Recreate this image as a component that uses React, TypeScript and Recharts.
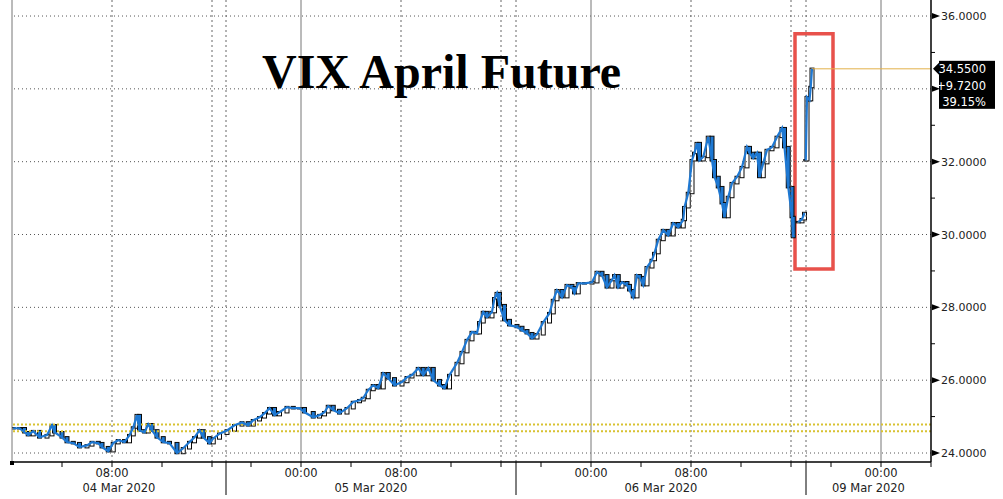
import React from 'react'
import {
  Bar,
  ComposedChart,
  Line,
  ReferenceArea,
  ReferenceLine,
  XAxis,
  YAxis,
} from 'recharts'

// chart hours: 04 Mar 00:00 = 0, session gaps compressed like the terminal does
const hours = [
  0.1, 0.6, 1.0, 1.3, 1.7, 2.2, 2.8, 3.2, 3.4, 4.0, 4.4, 4.9, 5.4, 6.0, 6.4, 6.9, 7.2, 7.7, 8.1, 8.5,
  9.0, 9.4, 9.7, 10.0, 10.2, 10.6, 10.9, 11.2, 11.6, 12.1, 12.6, 13.2, 13.7, 14.2, 14.6, 15.0, 15.3,
  15.8, 16.1, 16.6, 17.2, 17.8, 18.4, 18.9, 19.3, 19.8, 20.2, 20.6, 21.0, 21.4, 22.0, 22.5, 23.0, 23.4,
  24.1, 24.6, 25.0, 25.3, 25.7, 26.2, 26.8, 27.3, 27.8, 28.1, 28.5, 28.9, 29.3, 29.7, 30.1, 30.6, 31.2,
  31.6, 32.0, 32.5, 32.9, 33.3, 33.7, 34.2, 34.6, 35.0, 35.6, 36.0, 36.4, 36.8, 37.2, 37.4, 37.7, 38.0,
  38.4, 38.6, 38.8, 39.0, 39.4, 39.8, 40.4, 40.8, 41.2, 41.6, 42.0, 42.5, 43.0, 43.3, 43.6, 44.0, 44.4,
  44.8, 45.0, 45.3, 45.8, 46.4, 46.8, 47.2, 47.6, 48.0, 48.2, 48.5, 48.8, 49.2, 49.4, 49.7, 50.0, 50.2,
  50.5, 50.8, 51.2, 51.4, 51.7, 52.1, 52.5, 52.9, 53.3, 53.7, 53.8, 54.1, 54.4, 54.6, 54.8, 55.0, 55.3,
  55.7, 56.0, 56.2, 56.5, 56.8, 57.0, 57.3, 57.6, 58.0, 58.4, 58.8, 59.0, 59.3, 59.6, 59.8, 60.1, 60.4,
  60.8, 61.2, 61.6, 61.8, 62.1, 62.4, 62.5, 62.7, 62.9, 63.2, 63.4, 63.45, 63.5, 63.6, 63.8, 63.9, 64.0,
]

const closes: (number | null)[] = [
  24.68, 24.68, 24.57, 24.49, 24.6, 24.43, 24.49, 24.76, 24.57, 24.43, 24.3, 24.27, 24.16, 24.21, 24.3,
  24.27, 24.16, 24.05, 24.27, 24.35, 24.3, 24.49, 24.7, 25.04, 24.62, 24.57, 24.79, 24.62, 24.43, 24.3,
  24.27, 24.0, 24.13, 24.3, 24.43, 24.62, 24.43, 24.27, 24.4, 24.53, 24.62, 24.76, 24.84, 24.76, 24.9,
  24.98, 25.09, 25.23, 25.04, 25.12, 25.26, 25.23, 25.23, 25.12, 24.98, 25.04, 25.12, 25.29, 25.18,
  25.09, 25.23, 25.4, 25.45, 25.51, 25.73, 25.86, 25.78, 26.19, 26.05, 25.86, 25.95, 26.08, 26.14,
  26.33, 26.14, 26.33, 26.0, 25.86, 25.78, 26.14, 26.47, 26.77, 27.1, 27.32, 27.29, 27.59, 27.87, 27.73,
  27.87, 28.25, 28.39, 28.06, 27.65, 27.51, 27.46, 27.37, 27.29, 27.15, 27.26, 27.59, 27.84, 28.2,
  28.47, 28.28, 28.61, 28.55, 28.39, 28.66, 28.66, 28.69, 28.97, 28.88, 28.55, 28.75, 28.88, 28.55,
  28.69, 28.61, 28.47, 28.28, 28.88, 28.83, 28.61, 29.1, 29.3, 29.49, 29.85, 30.12, 29.98, 30.31, 30.2,
  30.4, 30.75, 31.14, 32.04, 32.24, 32.51, 32.04, 32.13, 32.68, 32.04, 31.58, 31.3, 30.86, 30.48, 31.03,
  31.41, 31.58, 31.85, 32.4, 32.24, 32.1, 32.24, 31.58, 31.96, 32.32, 32.4, 32.68, 32.92, 32.4, 31.3,
  30.48, 29.93, null, 30.34, 30.42, 30.59, null, 32.04, 33.77, 33.69, 34.05, 34.55,
]

const sessionMidnights = [0, 23.12, 46.32, 69.52]
const sessionStarts = [17.12, 40.32, 63.52]
const sessionCloses = [16, 39.12, 62.32]
const dayLabels = ['04 Mar 2020', '05 Mar 2020', '06 Mar 2020', '09 Mar 2020']
const priceTicks = [24, 26, 28, 30, 32, 34, 36]
const minorPriceTicks = [25, 27, 29, 31, 33, 35]
const prevCloseLines = [24.78, 24.6]
const lastPrice = 34.55
const netChange = '+9.7200'
const pctChange = '39.15%'
const END = 73.52

const W = 1003
const H = 499
const PLOT_LEFT = 12
const PLOT_RIGHT = 931
const PLOT_BOTTOM = 462
const AXIS_FONT = '"DejaVu Sans", Verdana, sans-serif'
const BLUE = '#1e78d2'

const data = hours.map((h, i) => {
  const c = closes[i]
  const prev = i > 0 ? closes[i - 1] : null
  const o = prev == null ? c : prev
  return {
    h,
    close: c,
    candle: c == null || o == null ? null : [Math.min(o, c) - 0.02, Math.max(o, c) + 0.02],
    down: c != null && o != null && o > c,
  }
})

const key = (t: number) => t.toFixed(2)

const minorTicks = [4, 8, 12, 16]
sessionMidnights.slice(1).forEach((m) => {
  ;[-4, 0, 4, 8, 12, 16].forEach((d) => {
    if (m + d <= END + 0.001) minorTicks.push(m + d)
  })
})

const timeLabels: Record<string, string> = { [key(8)]: '08:00' }
sessionMidnights.slice(1).forEach((m) => {
  timeLabels[key(m)] = '00:00'
  if (m + 8 < END) timeLabels[key(m + 8)] = '08:00'
})

const bounds = [0, ...sessionStarts, END]
const dateLabels: Record<string, string> = {}
dayLabels.forEach((d, i) => {
  dateLabels[key((bounds[i] + bounds[i + 1]) / 2)] = d
})

const minorSet = new Set(minorTicks.map(key))
const startSet = new Set(sessionStarts.map(key))
const xTicks = Array.from(
  new Set([0, ...minorTicks, ...sessionStarts, ...Object.keys(dateLabels).map(Number)].map(key)),
)
  .map(Number)
  .sort((a, b) => a - b)

function XTick(props: any) {
  const { x, payload } = props
  const k = key(payload.value)
  const y = PLOT_BOTTOM
  return (
    <g>
      {payload.value === 0 && <rect x={x - 2} y={y - 1} width={4} height={4} fill="#000" />}
      {minorSet.has(k) && <line x1={x} x2={x} y1={y} y2={y + 5} stroke="#000" />}
      {startSet.has(k) && <line x1={x} x2={x} y1={y} y2={y + 33} stroke="#000" />}
      {timeLabels[k] && (
        <text x={x} y={y + 15} textAnchor="middle" fontSize={11.5} fontFamily={AXIS_FONT} fill="#222">
          {timeLabels[k]}
        </text>
      )}
      {dateLabels[k] && (
        <text x={x} y={y + 30} textAnchor="middle" fontSize={11.5} fontFamily={AXIS_FONT} fill="#222">
          {dateLabels[k]}
        </text>
      )}
    </g>
  )
}

function YTick(props: any) {
  const { y, payload } = props
  const v = payload.value
  const x = PLOT_RIGHT
  if (v === lastPrice) {
    return (
      <g>
        <polygon points={`${x + 2},${y} ${x + 9},${y - 7} ${x + 9},${y + 7}`} fill="#000" />
        <rect x={x + 8} y={y - 8} width={56} height={48} fill="#000" />
        <text x={986} y={y + 4} textAnchor="end" fontSize={11.5} fontFamily={AXIS_FONT} fill="#fff">
          {v.toFixed(4)}
        </text>
        <text x={986} y={y + 21} textAnchor="end" fontSize={11.5} fontFamily={AXIS_FONT} fill="#fff">
          {netChange}
        </text>
        <text x={986} y={y + 37} textAnchor="end" fontSize={11.5} fontFamily={AXIS_FONT} fill="#fff">
          {pctChange}
        </text>
      </g>
    )
  }
  if (minorPriceTicks.includes(v)) {
    return <line x1={x} x2={x + 4} y1={y} y2={y} stroke="#000" />
  }
  // the last-price box sits over this label in the terminal view
  const hidden = Math.abs(v - lastPrice) < 1
  return (
    <g>
      <polygon points={`${x + 1},${y - 3} ${x + 9},${y} ${x + 1},${y + 3}`} fill="#000" />
      {!hidden && (
        <text x={x + 10} y={y + 4} fontSize={11} fontFamily={AXIS_FONT} fill="#222">
          {v.toFixed(4)}
        </text>
      )}
    </g>
  )
}

// hollow up candles, blue down candles, fixed width whatever the band size
function Candle(props: any) {
  const { x, y, width, height, payload } = props
  if (payload?.candle == null || height == null) return null
  const cx = x + width / 2
  return (
    <rect
      x={cx - 2}
      y={y}
      width={4}
      height={Math.max(Math.abs(height), 1)}
      fill={payload.down ? BLUE : '#fff'}
      stroke="#0a0a0a"
      strokeWidth={1}
    />
  )
}

export default function App() {
  return (
    <div style={{ position: 'fixed', left: 0, top: 0, width: W, height: H, background: '#fff' }}>
      <ComposedChart
        width={W}
        height={H}
        data={data}
        margin={{ top: 0, right: 0, bottom: 0, left: PLOT_LEFT }}
      >
        <XAxis
          dataKey="h"
          type="number"
          domain={[0, END]}
          allowDataOverflow
          ticks={xTicks}
          interval={0}
          tick={<XTick />}
          tickLine={false}
          axisLine={{ stroke: '#000', strokeWidth: 1.5 }}
          height={H - PLOT_BOTTOM}
        />
        <YAxis
          orientation="right"
          type="number"
          domain={[23.753, 36.44]}
          allowDataOverflow
          ticks={[...priceTicks, ...minorPriceTicks, lastPrice]}
          interval={0}
          tick={<YTick />}
          tickLine={false}
          axisLine={{ stroke: '#000', strokeWidth: 1.5 }}
          width={W - PLOT_RIGHT}
        />
        {priceTicks.map((p) => (
          <ReferenceLine key={'h' + p} y={p} stroke="#555" strokeDasharray="1 3" />
        ))}
        {sessionMidnights.map((m) => (
          <ReferenceLine key={'m' + m} x={m} stroke="#777" />
        ))}
        {[8, ...sessionMidnights.slice(1).map((m) => m + 8)]
          .filter((t) => t < END)
          .map((t) => (
            <ReferenceLine key={'e' + t} x={t} stroke="#666" strokeDasharray="2 3" />
          ))}
        {[...sessionCloses, ...sessionStarts].map((t) => (
          <ReferenceLine key={'s' + t} x={t} stroke="#666" strokeDasharray="2 3" />
        ))}
        {prevCloseLines.map((p) => (
          <ReferenceLine key={'y' + p} y={p} stroke="#d8c232" strokeWidth={2} strokeDasharray="2 2" />
        ))}
        <ReferenceLine
          segment={[
            { x: hours[hours.length - 1], y: lastPrice },
            { x: END, y: lastPrice },
          ]}
          stroke="#e2b04a"
        />
        <Line
          dataKey="close"
          type="linear"
          stroke={BLUE}
          strokeWidth={2.2}
          dot={false}
          connectNulls={false}
          isAnimationActive={false}
        />
        <Bar dataKey="candle" shape={<Candle />} isAnimationActive={false} />
        <ReferenceArea
          x1={62.64}
          x2={65.68}
          y1={29.05}
          y2={35.51}
          fill="none"
          fillOpacity={0}
          stroke="#e8514b"
          strokeWidth={3.5}
          ifOverflow="visible"
        />
      </ComposedChart>
      <svg
        width={W}
        height={H}
        style={{ position: 'absolute', left: 0, top: 0, pointerEvents: 'none' }}
      >
        <text
          x={262}
          y={88}
          fontFamily='"Liberation Serif", "Times New Roman", serif'
          fontWeight="bold"
          fontSize={48}
          fill="#000"
        >
          VIX April Future
        </text>
      </svg>
    </div>
  )
}
